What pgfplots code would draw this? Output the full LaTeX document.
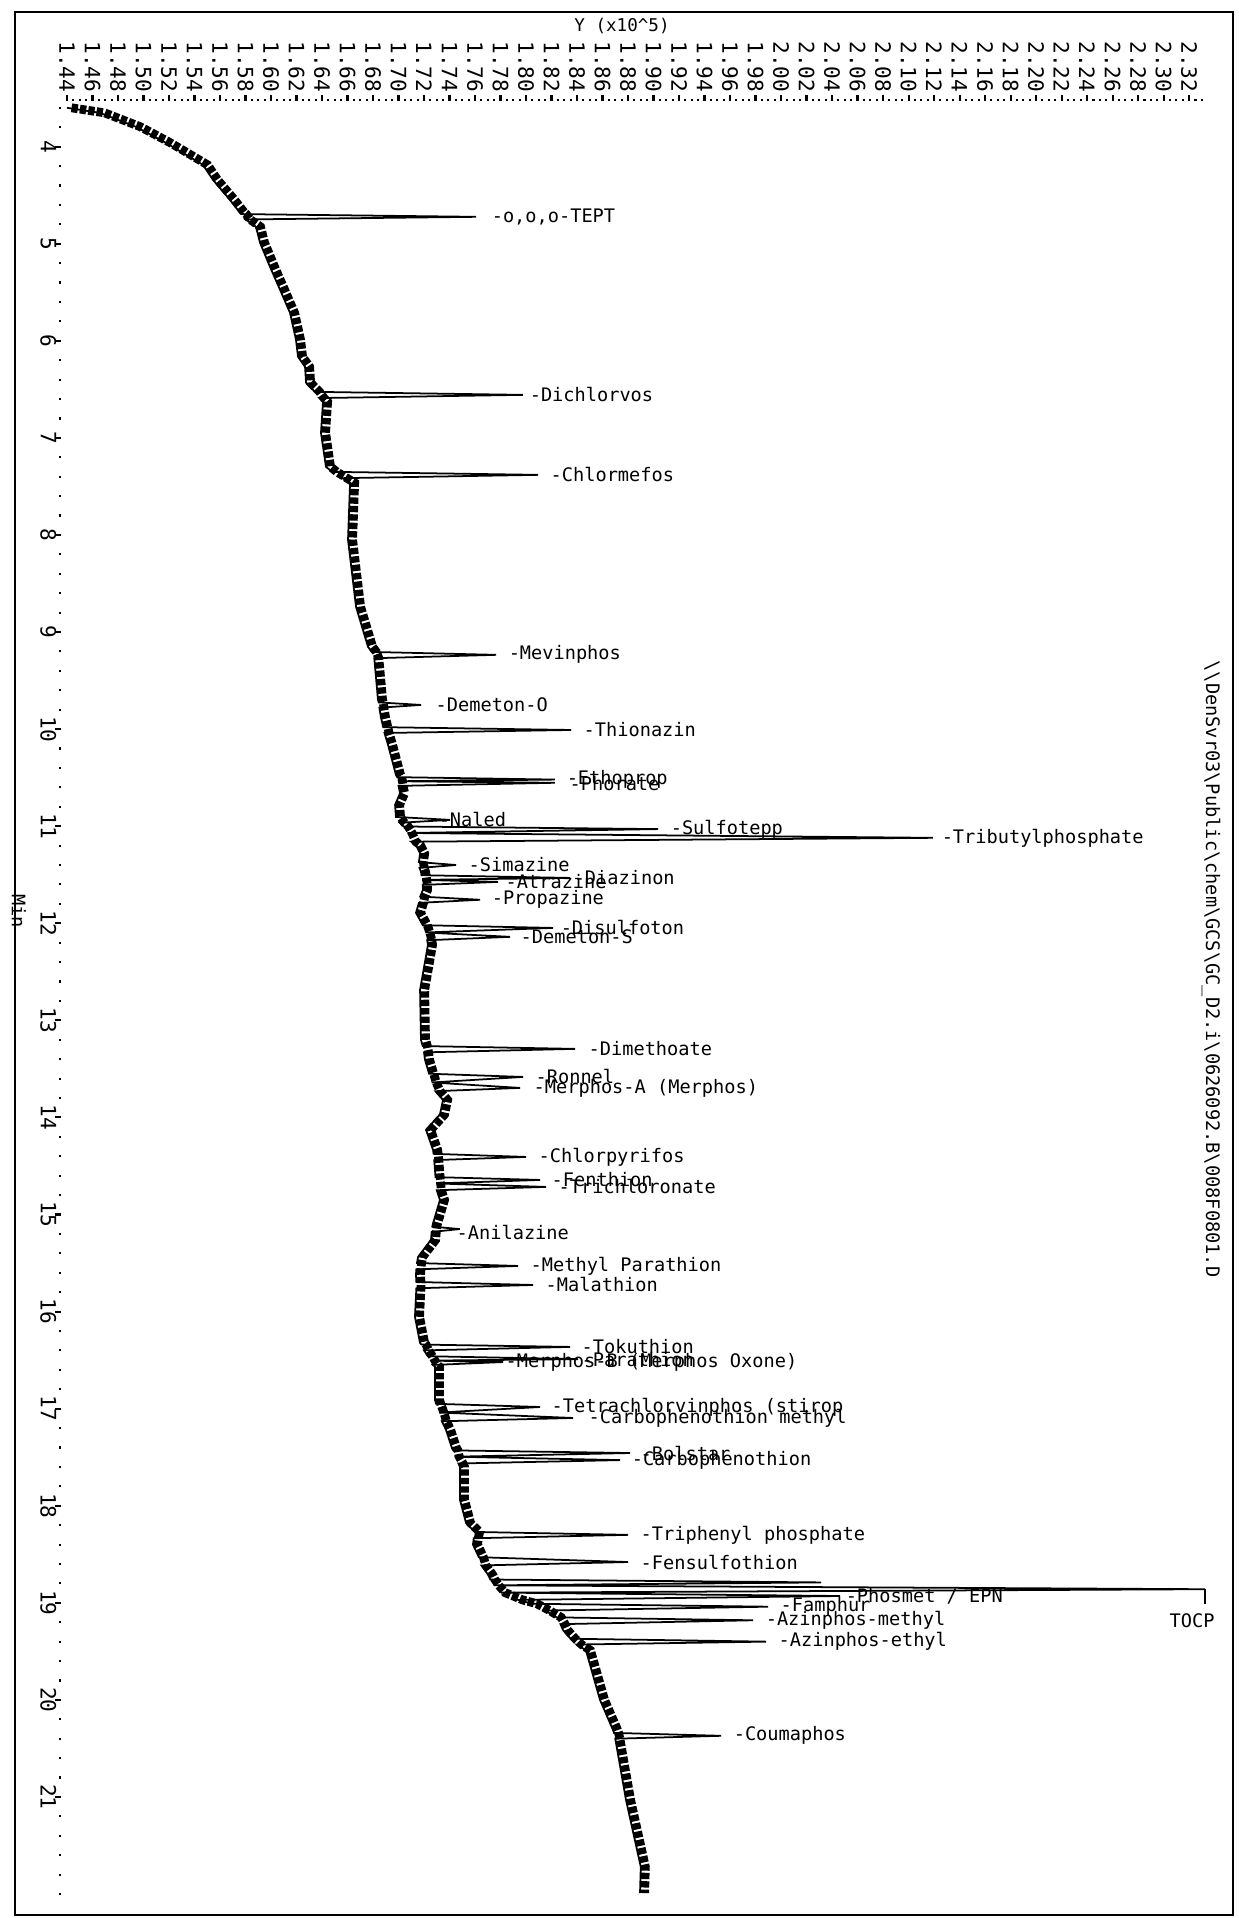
\documentclass[border=0pt]{standalone}
\usepackage{fontspec}
\setmainfont{DejaVu Sans Mono}
\usepackage{pgfplots}
\usepackage{pgfplotstable}
\pgfplotsset{compat=1.18}

% chromatogram trace: time (min), signal (x10^5), p=1 marks a peak apex
\pgfplotstableread{
t v p
3.600 1.4400 0
3.652 1.4659 0
3.796 1.4941 0
3.961 1.5176 0
4.188 1.5467 0
4.342 1.5545 0
4.548 1.5678 0
4.682 1.5757 0
4.695 1.5770 0
4.723 1.7608 1
4.750 1.5800 0
4.826 1.5882 0
4.991 1.5914 0
5.238 1.5992 0
5.475 1.6071 0
5.712 1.6149 0
5.990 1.6196 0
6.165 1.6212 0
6.268 1.6267 0
6.433 1.6275 0
6.526 1.6345 0
6.557 1.7976 1
6.590 1.6380 0
6.629 1.6408 0
6.948 1.6392 0
7.298 1.6431 0
7.350 1.6480 0
7.381 1.8094 1
7.415 1.6560 0
7.463 1.6620 0
8.050 1.6604 0
8.741 1.6667 0
9.153 1.6761 0
9.205 1.6790 0
9.235 1.7765 1
9.270 1.6810 0
9.359 1.6816 0
9.699 1.6839 0
9.725 1.6845 0
9.751 1.7176 1
9.780 1.6850 0
9.884 1.6863 0
9.980 1.6880 0
10.009 1.8353 1
10.040 1.6890 0
10.163 1.6918 0
10.472 1.6980 0
10.495 1.6990 0
10.520 1.8227 1
10.537 1.6995 0
10.553 1.8227 1
10.585 1.7000 0
10.660 1.7012 0
10.780 1.6973 0
10.905 1.6980 0
10.935 1.7404 1
10.965 1.7010 0
11.003 1.7040 0
11.030 1.9035 1
11.070 1.7070 0
11.120 2.1190 1
11.160 1.7100 0
11.196 1.7137 0
11.280 1.7169 0
11.370 1.7160 0
11.400 1.7451 1
11.430 1.7165 0
11.470 1.7176 0
11.505 1.7180 0
11.533 1.8345 1
11.553 1.7185 0
11.574 1.7780 1
11.605 1.7190 0
11.655 1.7192 0
11.725 1.7170 0
11.758 1.7640 1
11.790 1.7160 0
11.892 1.7137 0
11.985 1.7176 0
12.020 1.7190 0
12.048 1.8212 1
12.095 1.7210 0
12.140 1.7875 1
12.175 1.7225 0
12.222 1.7231 0
12.686 1.7169 0
13.201 1.7176 0
13.265 1.7190 0
13.294 1.8384 1
13.330 1.7200 0
13.408 1.7208 0
13.550 1.7240 0
13.583 1.7976 1
13.640 1.7260 0
13.696 1.7953 1
13.730 1.7290 0
13.820 1.7349 0
13.970 1.7325 0
14.129 1.7216 0
14.335 1.7271 0
14.375 1.7275 0
14.407 1.8000 1
14.440 1.7280 0
14.540 1.7286 0
14.615 1.7290 0
14.644 1.8110 1
14.680 1.7295 0
14.716 1.8157 1
14.750 1.7300 0
14.850 1.7325 0
15.090 1.7271 0
15.125 1.7265 0
15.150 1.7480 1
15.180 1.7260 0
15.260 1.7255 0
15.438 1.7153 0
15.500 1.7145 0
15.530 1.7937 1
15.565 1.7140 0
15.620 1.7137 0
15.695 1.7140 0
15.726 1.8055 1
15.760 1.7140 0
16.055 1.7129 0
16.323 1.7169 0
16.340 1.7180 0
16.364 1.8345 1
16.400 1.7200 0
16.460 1.7230 0
16.490 1.8408 1
16.505 1.7250 0
16.520 1.7820 1
16.550 1.7270 0
16.570 1.7286 0
16.910 1.7286 0
16.950 1.7295 0
16.983 1.8110 1
17.040 1.7320 0
17.096 1.8369 1
17.130 1.7340 0
17.220 1.7373 0
17.410 1.7420 0
17.430 1.7430 0
17.457 1.8816 1
17.495 1.7440 0
17.530 1.8737 1
17.565 1.7470 0
17.600 1.7482 0
17.940 1.7482 0
18.180 1.7530 0
18.270 1.7600 0
18.300 1.8800 1
18.335 1.7590 0
18.400 1.7584 0
18.530 1.7630 0
18.580 1.8800 1
18.615 1.7650 0
18.710 1.7702 0
18.760 1.7720 0
18.790 2.0314 1
18.820 1.7750 0
18.860 2.3325 1
18.895 1.7800 0
18.930 2.0463 1
18.970 1.7937 0
19.010 1.8050 0
19.040 1.9898 1
19.080 1.8150 0
19.120 1.8200 0
19.150 1.8240 0
19.180 1.9780 1
19.220 1.8270 0
19.280 1.8290 0
19.370 1.8350 0
19.400 1.9882 1
19.430 1.8400 0
19.490 1.8470 0
20.000 1.8580 0
20.310 1.8682 0
20.340 1.8690 0
20.370 1.9530 1
20.400 1.8700 0
21.030 1.8784 0
21.720 1.8900 0
21.990 1.8894 0
}\trace

\newcommand{\lblfont}{\fontsize{5.3}{6}\selectfont}
\newcommand{\tickfont}{\fontsize{6}{7}\selectfont}

\begin{document}
\begin{tikzpicture}[lbl/.style={anchor=west, inner sep=0pt, font=\lblfont}]
\begin{axis}[
    at={(0.61cm,-1.01cm)}, anchor=north west,
    scale only axis,
    width=11.44cm, height=17.93cm,
    xmin=1.4353, xmax=2.3325,
    ymin=3.53, ymax=22.0,
    y dir=reverse,
    axis x line*=top, axis y line*=left,
    axis line style={draw=none},
    clip=false,
    xtick={1.44,1.46,...,2.33},
    minor x tick num=3,
    ytick={4,...,21},
    minor ytick={3.6,3.8,...,21.9},
    tick align=outside,
    major tick length=0.06cm,
    minor tick length=0.02cm,
    every tick/.style={black, line width=0.6pt},
    scaled x ticks=false,
    /pgf/number format/assume math mode=true,
    x tick label style={/pgf/number format/.cd, fixed, fixed zerofill, precision=2, /tikz/.cd},
    xticklabel style={rotate=-90, anchor=east, inner sep=0pt, font=\tickfont},
    xticklabel shift=0.02cm,
    yticklabel style={rotate=-90, anchor=north, inner sep=0pt, font=\tickfont},
    yticklabel shift=-0.02cm,
]
% trace with peaks
\addplot[black, line width=0.5pt] table[x=v, y=t] {\trace};
% noisy baseline band
\addplot[black, line width=2.5pt, dash pattern=on 1.8pt off 0.6pt, xshift=1.3pt,
    unbounded coords=discard]
    table[x=v, y expr={\thisrow{p}==1 ? nan : \thisrow{t}}] {\trace};

\node[lbl] at (axis cs:1.7726,4.723) {-o,o,o-TEPT};
\node[lbl] at (axis cs:1.8024,6.557) {-Dichlorvos};
\node[lbl] at (axis cs:1.8188,7.381) {-Chlormefos};
\node[lbl] at (axis cs:1.7859,9.235) {-Mevinphos};
\node[lbl] at (axis cs:1.7286,9.751) {-Demeton-O};
\node[lbl] at (axis cs:1.8447,10.009) {-Thionazin};
\node[lbl] at (axis cs:1.8314,10.52) {-Ethoprop};
\node[lbl] at (axis cs:1.8337,10.56) {-Phorate};
\node[lbl] at (axis cs:1.7310,10.935) {-Naled};
\node[lbl] at (axis cs:1.9130,11.03) {-Sulfotepp};
\node[lbl] at (axis cs:2.1255,11.12) {-Tributylphosphate};
\node[lbl] at (axis cs:1.7545,11.40) {-Simazine};
\node[lbl] at (axis cs:1.8369,11.533) {-Diazinon};
\node[lbl] at (axis cs:1.7835,11.574) {-Atrazine};
\node[lbl] at (axis cs:1.7726,11.758) {-Propazine};
\node[lbl] at (axis cs:1.8267,12.048) {-Disulfoton};
\node[lbl] at (axis cs:1.7953,12.14) {-Demeton-S};
\node[lbl] at (axis cs:1.8486,13.294) {-Dimethoate};
\node[lbl] at (axis cs:1.8070,13.583) {-Ronnel};
\node[lbl] at (axis cs:1.8055,13.696) {-Merphos-A (Merphos)};
\node[lbl] at (axis cs:1.8094,14.407) {-Chlorpyrifos};
\node[lbl] at (axis cs:1.8196,14.644) {-Fenthion};
\node[lbl] at (axis cs:1.8251,14.716) {-Trichloronate};
\node[lbl] at (axis cs:1.7451,15.19) {-Anilazine};
\node[lbl] at (axis cs:1.8031,15.53) {-Methyl Parathion};
\node[lbl] at (axis cs:1.8149,15.726) {-Malathion};
\node[lbl] at (axis cs:1.8431,16.364) {-Tokuthion};
\node[lbl] at (axis cs:1.8431,16.49) {-Parathion};
\node[lbl] at (axis cs:1.7835,16.52) {-Merphos-B (Merphos Oxone)};
\node[lbl] at (axis cs:1.8196,16.983) {-Tetrachlorvinphos (stirop};
\node[lbl] at (axis cs:1.8486,17.096) {-Carbophenothion methyl};
\node[lbl] at (axis cs:1.8894,17.457) {-Bolstar};
\node[lbl] at (axis cs:1.8824,17.53) {-Carbophenothion};
\node[lbl] at (axis cs:1.8894,18.30) {-Triphenyl phosphate};
\node[lbl] at (axis cs:1.8894,18.58) {-Fensulfothion};
\node[lbl] at (axis cs:2.0502,18.93) {-Phosmet / EPN};
\node[lbl] at (axis cs:1.9992,19.04) {-Famphur};
\node[lbl] at (axis cs:1.9875,19.18) {-Azinphos-methyl};
\node[lbl] at (axis cs:1.9976,19.40) {-Azinphos-ethyl};
\node[lbl] at (axis cs:1.9624,20.37) {-Coumaphos};
% off-scale TOCP marker
\draw[black, line width=0.6pt] (axis cs:2.3325,18.86) -- ++(0pt,-0.15cm);
\node[font=\lblfont, inner sep=0pt] at (axis cs:2.3224,19.18) {TOCP};
\end{axis}

\node[font=\fontsize{5}{6}\selectfont, inner sep=0pt] at (6.22,-0.26) {Y (x10\^{}5)};
\node[font=\lblfont, inner sep=0pt, rotate=-90] at (0.19,-9.11) {Min};
\node[font=\lblfont, inner sep=0pt, rotate=-90] at (12.11,-9.69)
  {\textbackslash\textbackslash DenSvr03\textbackslash Public\textbackslash chem\textbackslash GCS\textbackslash GC\_D2.i\textbackslash 0626092.B\textbackslash 008F0801.D};
\draw[black, line width=0.8pt] (0.15,-0.12) rectangle (12.33,-19.15);
\pgfresetboundingbox
\path[use as bounding box] (0,0) rectangle (12.38,-19.18);
\end{tikzpicture}
\end{document}
